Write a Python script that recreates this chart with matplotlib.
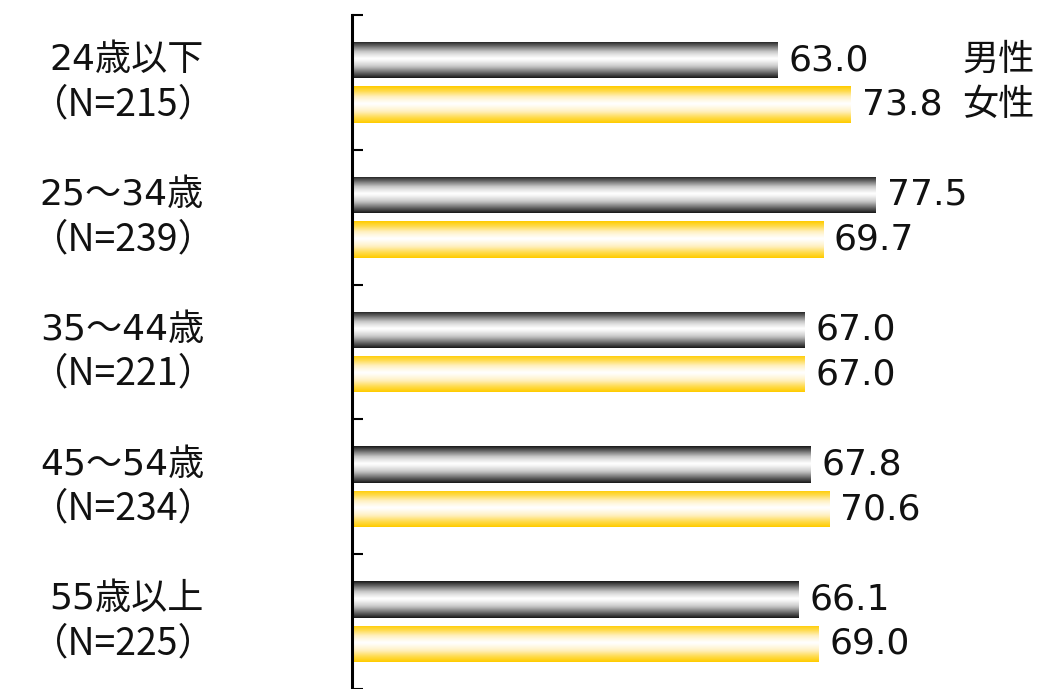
import numpy as np
import matplotlib.pyplot as plt
from matplotlib.colors import LinearSegmentedColormap
import matplotlib.transforms as mtransforms

plt.rcParams['font.family'] = ['DejaVu Sans', 'Noto Sans CJK JP']

# データ
groups = ['24歳以下', '25～34歳', '35～44歳', '45～54歳', '55歳以上']
n_labels = ['（N=215）', '（N=239）', '（N=221）', '（N=234）', '（N=225）']
male = [63.0, 77.5, 67.0, 67.8, 66.1]
female = [73.8, 69.7, 67.0, 70.6, 69.0]
series_names = ['男性', '女性']

fig = plt.figure(figsize=(10.39, 6.89), dpi=100)
ax = fig.add_axes([352 / 1039, 0, 676 / 1039, 674 / 689])

y = np.arange(len(groups))
off = 0.165
h = 0.27

# グラデーション（上下が濃く、中央が白）
cm_male = LinearSegmentedColormap.from_list('m', ['#ffffff', '#c8c8c8', '#6e6e6e', '#1a1a1a'])
cm_female = LinearSegmentedColormap.from_list('f', ['#ffffff', '#fff0c0', '#ffdc50', '#ffcc00'])
t = np.linspace(-1, 1, 64)
c = -0.05
grad = np.where(t < c, (c - t) / (1 + c), (t - c) / (1 - c)) ** 1.2
grad = grad.reshape(-1, 1)

bars_m = ax.barh(y - off, male, height=h, color='none', edgecolor='none')
bars_f = ax.barh(y + off, female, height=h, color='none', edgecolor='none')

for bars, cm in [(bars_m, cm_male), (bars_f, cm_female)]:
    for b in bars:
        x0, y0 = b.get_x(), b.get_y()
        w, hh = b.get_width(), b.get_height()
        im = ax.imshow(grad, cmap=cm, aspect='auto', interpolation='bilinear',
                       extent=[x0, x0 + w, y0 + hh, y0], vmin=0, vmax=1, zorder=2)
        im.set_clip_path(b)

for i in range(len(groups)):
    ax.text(male[i] + 1.6, y[i] - off, f'{male[i]:.1f}', va='center', ha='left',
            fontsize=26, color='#111111')
    ax.text(female[i] + 1.6, y[i] + off, f'{female[i]:.1f}', va='center', ha='left',
            fontsize=26, color='#111111')

# 凡例（テキスト）
ax.text(90.3, -off, series_names[0], va='center', ha='left', fontsize=26, color='#111111')
ax.text(90.3, off, series_names[1], va='center', ha='left', fontsize=26, color='#111111')

# 左側のラベル
trans = mtransforms.blended_transform_factory(fig.transFigure, ax.transData)
for i in range(len(groups)):
    ax.text(204 / 1039, y[i] - off, groups[i], transform=trans, ha='right', va='center',
            fontsize=26, color='#111111')
    ax.text(216 / 1039, y[i] + off, n_labels[i], transform=trans, ha='right', va='center',
            fontsize=27, color='#111111', family=['Noto Sans CJK JP'])

ax.set_xlim(0, 100)
ax.set_ylim(len(groups) - 0.5, -0.5)
ax.set_yticks(np.arange(len(groups) + 1) - 0.5)
ax.set_yticklabels([])
ax.set_xticks([])
ax.tick_params(axis='y', direction='in', length=8, width=1.5, color='black')
for s in ['top', 'right', 'bottom']:
    ax.spines[s].set_visible(False)
ax.spines['left'].set_linewidth(2.2)
ax.patch.set_alpha(0)

fig.savefig('out.png', dpi=100)
